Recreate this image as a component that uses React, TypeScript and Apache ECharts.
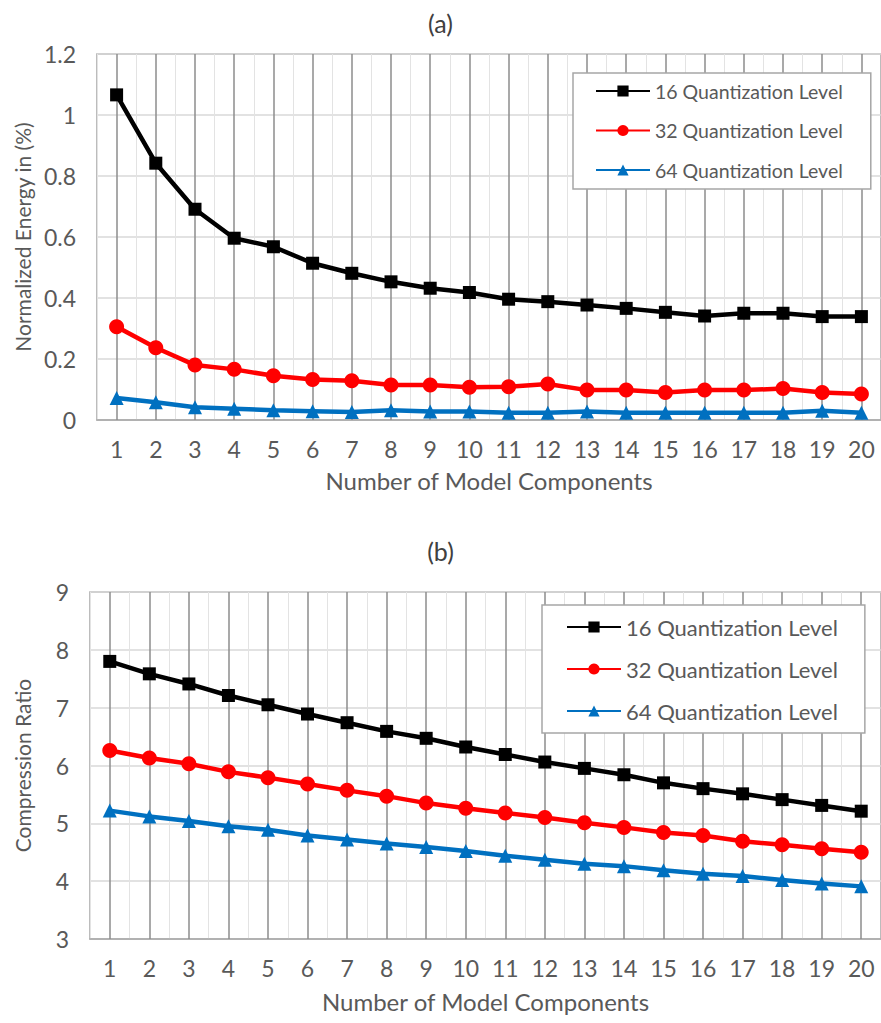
import React, { useEffect, useRef } from "react";
import * as echarts from "echarts";

const categories = ["1","2","3","4","5","6","7","8","9","10","11","12","13","14","15","16","17","18","19","20"];
const seriesNames = ["16 Quantization Level", "32 Quantization Level", "64 Quantization Level"];

// (a) Normalized Energy in (%)
const energy16 = [1.066, 0.842, 0.691, 0.596, 0.568, 0.514, 0.481, 0.453, 0.432, 0.418, 0.396, 0.388, 0.377, 0.366, 0.353, 0.341, 0.350, 0.350, 0.339, 0.339];
const energy32 = [0.306, 0.237, 0.180, 0.166, 0.145, 0.133, 0.129, 0.115, 0.115, 0.107, 0.109, 0.118, 0.098, 0.098, 0.090, 0.098, 0.098, 0.103, 0.090, 0.085];
const energy64 = [0.072, 0.058, 0.042, 0.037, 0.032, 0.029, 0.026, 0.032, 0.028, 0.028, 0.024, 0.024, 0.028, 0.024, 0.024, 0.024, 0.024, 0.024, 0.030, 0.024];

// (b) Compression Ratio
const ratio16 = [7.80, 7.585, 7.41, 7.21, 7.05, 6.89, 6.74, 6.59, 6.47, 6.32, 6.19, 6.06, 5.95, 5.84, 5.70, 5.60, 5.51, 5.41, 5.31, 5.21];
const ratio32 = [6.26, 6.13, 6.03, 5.89, 5.79, 5.68, 5.57, 5.47, 5.35, 5.26, 5.18, 5.10, 5.01, 4.93, 4.84, 4.79, 4.69, 4.63, 4.56, 4.50];
const ratio64 = [5.22, 5.12, 5.04, 4.95, 4.89, 4.79, 4.72, 4.65, 4.59, 4.52, 4.44, 4.37, 4.30, 4.26, 4.19, 4.13, 4.09, 4.02, 3.96, 3.91];

const FONT = "Lato";
const GRAY_TEXT = "#595959";
const colors = ["#000000", "#ff0000", "#0070c0"];
const symbols = ["rect", "circle", "triangle"];
const symbolSizes = [13, 15, 14];

export default function App() {
  const ref = useRef<HTMLDivElement>(null);
  useEffect(() => {
    if (!ref.current) return;
    const chart = echarts.init(ref.current, null, { renderer: "svg" });
    const plotH = [366, 347];
    const mkX = (i: number, gap: number, margin: number) => ({
      type: "category",
      gridIndex: i,
      data: categories,
      boundaryGap: true,
      axisLine: { show: true, lineStyle: { color: "#a6a6a6", width: 1.5 } },
      axisTick: { show: true, alignWithLabel: true, inside: true, length: plotH[i], lineStyle: { color: "#8c8c8c", width: 1.5 } },
      axisLabel: { color: GRAY_TEXT, fontSize: 23, fontFamily: FONT, margin },
      splitLine: { show: true, lineStyle: { color: "#e3e3e3", width: 1 } },
      name: "Number of Model Components",
      nameLocation: "middle",
      nameGap: gap,
      nameTextStyle: { color: GRAY_TEXT, fontSize: 24, fontFamily: FONT },
    });
    const mkY = (i: number, min: number, max: number, interval: number, name: string, gap: number) => ({
      type: "value",
      gridIndex: i,
      min, max, interval,
      axisLine: { show: false },
      axisTick: { show: false },
      axisLabel: { color: GRAY_TEXT, fontSize: 23, fontFamily: FONT, margin: 21 },
      splitLine: { show: true, lineStyle: { color: "#d9d9d9", width: 1.5 } },
      name,
      nameLocation: "middle",
      nameGap: gap,
      nameRotate: 90,
      nameTextStyle: { color: GRAY_TEXT, fontSize: 21, fontFamily: FONT },
    });
    const mkSeries = (name: string, idx: number, data: number[], axis: number) => ({
      type: "line",
      name,
      xAxisIndex: axis,
      yAxisIndex: axis,
      data,
      symbol: symbols[idx],
      symbolSize: symbolSizes[idx],
      lineStyle: { color: colors[idx], width: 4.5 },
      itemStyle: { color: colors[idx] },
      z: 3 + idx,
    });
    const mkLegend = (left: number, top: number, gap: number, fontSize: number, pad: number[]) => ({
      orient: "vertical",
      left, top,
      data: seriesNames,
      itemWidth: 54,
      itemHeight: 14,
      itemGap: gap,
      padding: pad,
      backgroundColor: "#ffffff",
      borderColor: "#a6a6a6",
      borderWidth: 1.5,
      borderRadius: 0,
      selectedMode: false,
      textStyle: { color: GRAY_TEXT, fontSize, fontFamily: FONT },
    });
    chart.setOption({
      animation: false,
      backgroundColor: "#ffffff",
      title: [
        { text: "(a)", left: "center", top: 5, textStyle: { color: "#404040", fontSize: 25, fontWeight: "normal", fontFamily: FONT } },
        { text: "(b)", left: "center", top: 533, textStyle: { color: "#404040", fontSize: 25, fontWeight: "normal", fontFamily: FONT } },
      ],
      grid: [
        { left: 97, right: 0, top: 54, height: plotH[0], show: true, borderColor: "#a6a6a6", borderWidth: 1.5, backgroundColor: "transparent" },
        { left: 90, right: 0, top: 592, height: plotH[1], show: true, borderColor: "#a6a6a6", borderWidth: 1.5, backgroundColor: "transparent" },
      ],
      legend: [
        mkLegend(573, 73, 19.5, 19.5, [8, 28, 9, 22]),
        mkLegend(542, 605, 20, 22, [11, 27, 11, 24]),
      ],
      xAxis: [mkX(0, 48, 17), mkX(1, 50, 17)],
      yAxis: [
        mkY(0, 0, 1.2, 0.2, "Normalized Energy in (%)", 64),
        mkY(1, 3, 9, 1, "Compression Ratio", 57),
      ],
      series: [
        mkSeries(seriesNames[0], 0, energy16, 0),
        mkSeries(seriesNames[1], 1, energy32, 0),
        mkSeries(seriesNames[2], 2, energy64, 0),
        mkSeries(seriesNames[0], 0, ratio16, 1),
        mkSeries(seriesNames[1], 1, ratio32, 1),
        mkSeries(seriesNames[2], 2, ratio64, 1),
      ],
    });
    return () => chart.dispose();
  }, []);
  return <div ref={ref} style={{ position: "absolute", left: 0, top: 0, width: 881, height: 1023 }} />;
}
